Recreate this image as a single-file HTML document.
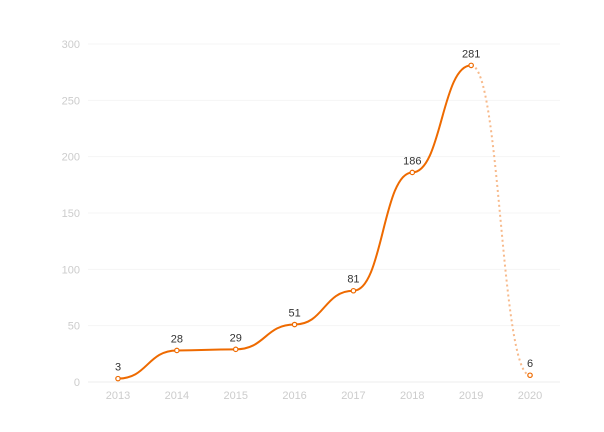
<!DOCTYPE html>
<html><head><meta charset="utf-8"><style>
body{margin:0;background:#fff;font-family:"Liberation Sans",sans-serif}
svg text{font-family:"Liberation Sans",sans-serif}
</style></head><body>
<svg id="chart" width="604" height="427" viewBox="0 0 604 427" xmlns="http://www.w3.org/2000/svg"></svg>
<script>
const categories=["2013","2014","2015","2016","2017","2018","2019","2020"];
const values=[3,28,29,51,81,186,281,6];
const yTicks=[0,50,100,150,200,250,300];
const NS="http://www.w3.org/2000/svg";
const svg=document.getElementById("chart");
const x0=118,dx=58.86,yBase=382,yTop=44,yMax=300;
function xs(i){return x0+i*dx;}
function ys(v){return yBase-(v/yMax)*(yBase-yTop);}
function mk(t,a){const e=document.createElementNS(NS,t);for(const k in a)e.setAttribute(k,a[k]);svg.appendChild(e);return e;}
yTicks.forEach(t=>{
  const g=mk("line",{x1:88,x2:560,y1:ys(t),y2:ys(t),stroke:t===0?"#eeeeee":"#f5f5f5","stroke-width":1});
  
  
  const l=mk("text",{x:80,y:ys(t)+4,"text-anchor":"end","font-size":11,fill:"#cccccc"});
  l.textContent=t;
  
  
});
categories.forEach((c,i)=>{
  const l=mk("text",{x:xs(i),y:399,"text-anchor":"middle","font-size":11,fill:"#cccccc"});
  l.textContent=c;
  
  
});
function seg(i){const xa=xs(i),ya=ys(values[i]),xb=xs(i+1),yb=ys(values[i+1]),m=(xb-xa)/2;
  return `C${xa+m},${ya} ${xb-m},${yb} ${xb},${yb}`;}
let d=`M${xs(0)},${ys(values[0])}`;
for(let i=0;i<values.length-2;i++)d+=seg(i);
const p=mk("path",{d:d,fill:"none",stroke:"#ee6a00","stroke-width":2});


const n=values.length-2;
const p2=mk("path",{d:`M${xs(n)},${ys(values[n])}`+seg(n),fill:"none",stroke:"#f7b98a","stroke-width":2,"stroke-dasharray":"2,3"});


values.forEach((v,i)=>{
  const c=mk("circle",{cx:xs(i),cy:ys(v),r:2.2,fill:"#fff",stroke:"#ee6a00","stroke-width":1.2});
  
  
  const t=mk("text",{x:xs(i),y:ys(v)-8,"text-anchor":"middle","font-size":11,fill:"#333"});
  t.textContent=v;
  
  
});
</script>
</body></html>
